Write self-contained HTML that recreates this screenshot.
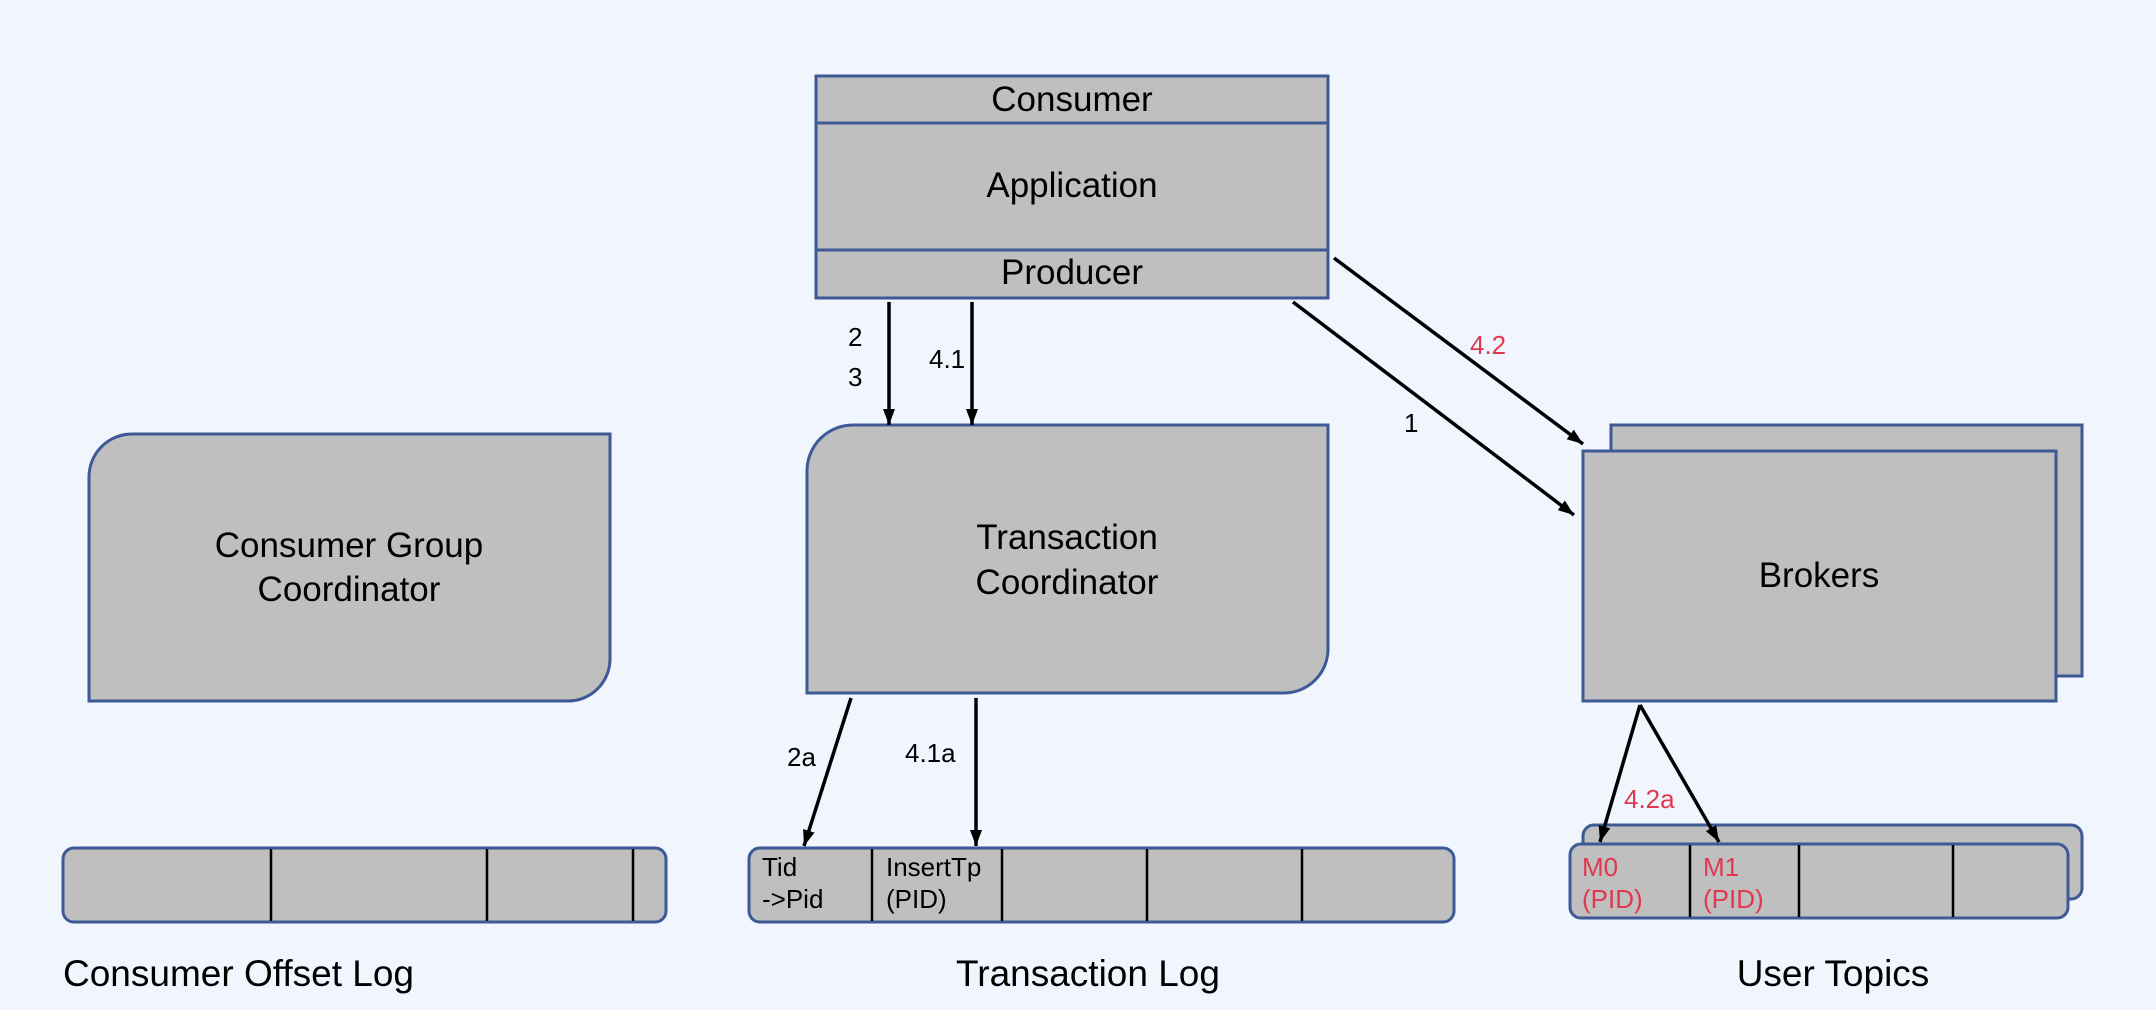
<!DOCTYPE html>
<html><head><meta charset="utf-8"><style>
html,body{margin:0;padding:0;background:#f0f5fe}
svg{display:block}
text{font-family:"Liberation Sans",sans-serif;fill:#000}
.r{fill:#e0384f}
</style></head><body>
<svg width="2156" height="1010" viewBox="0 0 2156 1010" xmlns="http://www.w3.org/2000/svg">
<defs>
<marker id="a" viewBox="0 0 16 12" refX="16" refY="6" markerWidth="16" markerHeight="12" orient="auto" markerUnits="userSpaceOnUse">
<path d="M0,0 L16,6 L0,12 z" fill="#000"/>
</marker>
</defs>
<rect width="2156" height="1010" fill="#f0f5fe"/>
<g fill="#bfbfbf" stroke="#3d5a96" stroke-width="3">
<rect x="816" y="76" width="512" height="222"/>
<line x1="816" y1="123" x2="1328" y2="123"/>
<line x1="816" y1="250" x2="1328" y2="250"/>
<path d="M853,425 L1328,425 L1328,649 A44,44 0 0 1 1284,693 L807,693 L807,471 A46,46 0 0 1 853,425 Z"/>
<path d="M132,434 L610,434 L610,659 A42,42 0 0 1 568,701 L89,701 L89,477 A43,43 0 0 1 132,434 Z"/>
<rect x="63" y="848" width="603" height="74" rx="11"/>
<rect x="749" y="848" width="705" height="74" rx="11"/>
<rect x="1611" y="425" width="471" height="251"/>
<rect x="1583" y="451" width="473" height="250"/>
<rect x="1583" y="825" width="499" height="74" rx="11"/>
<rect x="1570" y="844" width="498" height="74" rx="11"/>
</g>
<g stroke="#000" stroke-width="2.5">
<line x1="271" y1="849" x2="271" y2="921"/>
<line x1="487" y1="849" x2="487" y2="921"/>
<line x1="633" y1="849" x2="633" y2="921"/>
<line x1="872" y1="849" x2="872" y2="921"/>
<line x1="1002" y1="849" x2="1002" y2="921"/>
<line x1="1147" y1="849" x2="1147" y2="921"/>
<line x1="1302" y1="849" x2="1302" y2="921"/>
<line x1="1690" y1="845" x2="1690" y2="917"/>
<line x1="1799" y1="845" x2="1799" y2="917"/>
<line x1="1953" y1="845" x2="1953" y2="917"/>
</g>
<g stroke="#000" stroke-width="3.5" marker-end="url(#a)" fill="none">
<line x1="889" y1="302" x2="889" y2="425"/>
<line x1="972" y1="302" x2="972" y2="425"/>
<line x1="851" y1="698" x2="804" y2="846"/>
<line x1="976" y1="698" x2="976" y2="846"/>
<line x1="1334" y1="258" x2="1583" y2="444"/>
<line x1="1293" y1="302" x2="1574" y2="515"/>
<line x1="1640" y1="705" x2="1600" y2="842"/>
<line x1="1640" y1="705" x2="1719" y2="842"/>
</g>
<g font-size="35" text-anchor="middle">
<text x="1072" y="111">Consumer</text>
<text x="1072" y="197">Application</text>
<text x="1072" y="284">Producer</text>
<text x="1067" y="549">Transaction</text>
<text x="1067" y="594">Coordinator</text>
<text x="349" y="557">Consumer Group</text>
<text x="349" y="601">Coordinator</text>
<text x="1819" y="587">Brokers</text>
</g>
<g font-size="26">
<text x="848" y="346">2</text>
<text x="848" y="386">3</text>
<text x="929" y="368">4.1</text>
<text x="787" y="766">2a</text>
<text x="905" y="762">4.1a</text>
<text x="1404" y="432">1</text>
<text x="1470" y="354" class="r">4.2</text>
<text x="1624" y="808" class="r">4.2a</text>
<text x="762" y="876">Tid</text>
<text x="762" y="908">-&gt;Pid</text>
<text x="886" y="876">InsertTp</text>
<text x="886" y="908">(PID)</text>
<text x="1582" y="876" class="r">M0</text>
<text x="1582" y="908" class="r">(PID)</text>
<text x="1703" y="876" class="r">M1</text>
<text x="1703" y="908" class="r">(PID)</text>
</g>
<g font-size="37">
<text x="63" y="986">Consumer Offset Log</text>
<text x="1088" y="986" text-anchor="middle">Transaction Log</text>
<text x="1833" y="986" text-anchor="middle">User Topics</text>
</g>
</svg>
</body></html>
